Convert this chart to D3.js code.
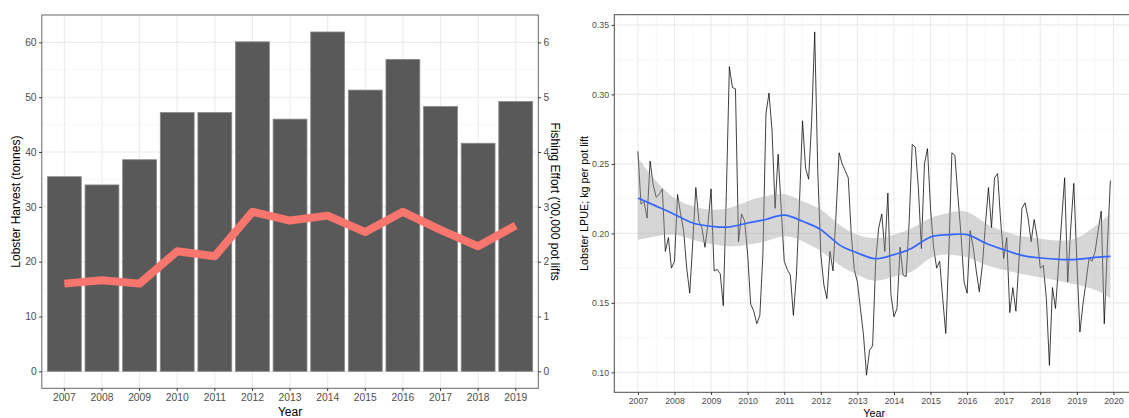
<!DOCTYPE html>
<html>
<head>
<meta charset="utf-8">
<script src="https://cdn.jsdelivr.net/npm/d3@7"></script>
<style>
  body { margin: 0; background: #fff; }
  text { font-family: "Liberation Sans", Arial, sans-serif; }
</style>
</head>
<body>
<script>
// ---- data ----
var years = [2007, 2008, 2009, 2010, 2011, 2012, 2013, 2014, 2015, 2016, 2017, 2018, 2019];
var harvest = [35.5, 34.0, 38.6, 47.2, 47.2, 60.1, 46.0, 61.9, 51.3, 56.9, 48.3, 41.6, 49.2];
var effort = [1.60, 1.66, 1.60, 2.19, 2.10, 2.91, 2.75, 2.84, 2.54, 2.91, 2.58, 2.28, 2.66];

// monthly LPUE, Jan 2007 .. Dec 2019
var lpue = [
  0.259, 0.221, 0.223, 0.211, 0.252, 0.235, 0.226, 0.228, 0.232, 0.187, 0.197, 0.175,
  0.180, 0.228, 0.214, 0.202, 0.175, 0.157, 0.194, 0.233, 0.209, 0.204, 0.190, 0.207,
  0.232, 0.173, 0.174, 0.171, 0.148, 0.228, 0.320, 0.305, 0.304, 0.194, 0.214, 0.209,
  0.185, 0.149, 0.144, 0.135, 0.141, 0.185, 0.286, 0.301, 0.274, 0.218, 0.257, 0.218,
  0.180, 0.174, 0.170, 0.141, 0.170, 0.222, 0.281, 0.247, 0.239, 0.281, 0.345, 0.245,
  0.185, 0.163, 0.153, 0.187, 0.173, 0.214, 0.258, 0.250, 0.245, 0.240, 0.199, 0.174,
  0.165, 0.146, 0.127, 0.098, 0.116, 0.119, 0.180, 0.204, 0.214, 0.187, 0.229, 0.156,
  0.140, 0.146, 0.190, 0.170, 0.169, 0.209, 0.264, 0.262, 0.233, 0.189, 0.250, 0.261,
  0.218, 0.190, 0.175, 0.180, 0.153, 0.128, 0.185, 0.258, 0.256, 0.226, 0.199, 0.165,
  0.157, 0.202, 0.190, 0.173, 0.158, 0.177, 0.206, 0.233, 0.204, 0.240, 0.243, 0.209,
  0.182, 0.197, 0.143, 0.161, 0.144, 0.180, 0.218, 0.222, 0.211, 0.194, 0.210, 0.197,
  0.175, 0.177, 0.153, 0.105, 0.161, 0.146, 0.177, 0.209, 0.240, 0.165, 0.204, 0.236,
  0.180, 0.129, 0.149, 0.165, 0.182, 0.180, 0.187, 0.202, 0.216, 0.135, 0.190, 0.238
];

// loess smooth and its ribbon, read every half year
var smoothT = [2007, 2007.5, 2008, 2008.5, 2009, 2009.5, 2010, 2010.5, 2011, 2011.5, 2012, 2012.5, 2013, 2013.5,
  2014, 2014.5, 2015, 2015.5, 2016, 2016.5, 2017, 2017.5, 2018, 2018.5, 2019, 2019.5, 2019.917];
var smoothFit = [0.2255, 0.2196, 0.2136, 0.2075, 0.2051, 0.2046, 0.2075, 0.2100, 0.2131, 0.2087, 0.2027, 0.1919, 0.1859, 0.1818,
  0.1847, 0.1895, 0.1974, 0.1991, 0.1991, 0.1931, 0.1883, 0.1842, 0.1823, 0.1813, 0.1813, 0.1828, 0.1835];
var smoothHi = [0.2544, 0.2376, 0.2255, 0.2196, 0.2172, 0.2183, 0.2232, 0.2268, 0.2284, 0.2232, 0.2172, 0.2064, 0.1991, 0.1967,
  0.1991, 0.2039, 0.2111, 0.2147, 0.2154, 0.2075, 0.2015, 0.1979, 0.1962, 0.1948, 0.1967, 0.2051, 0.2143];
var smoothLo = [0.1955, 0.1979, 0.1991, 0.1955, 0.1924, 0.1907, 0.1919, 0.1943, 0.1979, 0.1943, 0.1871, 0.1775, 0.1703, 0.1659,
  0.1690, 0.1727, 0.1823, 0.1847, 0.1828, 0.1775, 0.1739, 0.1707, 0.1683, 0.1659, 0.1631, 0.1595, 0.1534];

var leftTicks = [0, 10, 20, 30, 40, 50, 60];
var effortTicks = [0, 1, 2, 3, 4, 5, 6];
var lpueTicks = [0.10, 0.15, 0.20, 0.25, 0.30, 0.35];
var lpueYears = d3.range(2007, 2021);

var width = 1129;
var height = 418;

var svg = d3.select("body").append("svg")
  .attr("width", width)
  .attr("height", height);

svg.append("rect").attr("width", width).attr("height", height).attr("fill", "#fff");

function styleAxis(g, size, color) {
  g.select(".domain").remove();
  g.selectAll(".tick line").attr("stroke", "#333").attr("stroke-width", 1);
  g.selectAll(".tick text")
    .attr("fill", color || "#4d4d4d")
    .style("font-size", size + "px")
    .style("font-family", "'Liberation Sans', Arial, sans-serif");
}

function hline(g, y, x0, x1, color, w) {
  g.append("line").attr("x1", x0).attr("x2", x1).attr("y1", y).attr("y2", y)
    .attr("stroke", color).attr("stroke-width", w);
}
function vline(g, x, y0, y1, color, w) {
  g.append("line").attr("x1", x).attr("x2", x).attr("y1", y0).attr("y2", y1)
    .attr("stroke", color).attr("stroke-width", w);
}

// ================= left panel =================
var L = { x0: 41.8, x1: 538.3, y0: 15, y1: 388.3 };

var xBand = d3.scaleBand()
  .domain(years)
  .range([L.x0, L.x1])
  .paddingInner(0.1)
  .paddingOuter(0.15);

var hMax = d3.max(harvest);
var yLeft = d3.scaleLinear()
  .domain([-0.05 * hMax, hMax * 1.05])
  .range([L.y1, L.y0]);
// secondary axis = effort * 10 on the same scale
var yEffort = d3.scaleLinear()
  .domain(yLeft.domain().map(d => d / 10))
  .range([L.y1, L.y0]);

var lg = svg.append("g");
// minor grid
d3.range(5, 60, 10).forEach(v => hline(lg, yLeft(v), L.x0, L.x1, "#f3f3f3", 0.6));
// major grid
leftTicks.forEach(v => hline(lg, yLeft(v), L.x0, L.x1, "#ebebeb", 1.1));
years.forEach(yr => vline(lg, xBand(yr) + xBand.bandwidth() / 2, L.y0, L.y1, "#ebebeb", 1.1));

// bars
lg.selectAll("rect.bar")
  .data(years)
  .enter()
  .append("rect")
  .attr("class", "bar")
  .attr("x", d => xBand(d))
  .attr("width", xBand.bandwidth())
  .attr("y", (d, i) => yLeft(harvest[i]))
  .attr("height", (d, i) => yLeft(0) - yLeft(harvest[i]))
  .attr("fill", "#595959")
  .attr("stroke", "#8a8a8a")
  .attr("stroke-width", 0.8);

// effort line
var effortLine = d3.line()
  .x((d, i) => xBand(years[i]) + xBand.bandwidth() / 2)
  .y(d => yEffort(d));
lg.append("path")
  .datum(effort)
  .attr("d", effortLine)
  .attr("fill", "none")
  .attr("stroke", "#F8766D")
  .attr("stroke-width", 8)
  .attr("stroke-linejoin", "round");

// border
lg.append("rect")
  .attr("x", L.x0).attr("y", L.y0)
  .attr("width", L.x1 - L.x0).attr("height", L.y1 - L.y0)
  .attr("fill", "none").attr("stroke", "#666").attr("stroke-width", 1);

// axes
svg.append("g")
  .attr("transform", "translate(" + L.x0 + ",0)")
  .call(d3.axisLeft(yLeft).tickValues(leftTicks).tickFormat(d3.format("d")).tickSize(2.7).tickPadding(2.5))
  .call(g => styleAxis(g, 10.3));
svg.append("g")
  .attr("transform", "translate(" + L.x1 + ",0)")
  .call(d3.axisRight(yEffort).tickValues(effortTicks).tickFormat(d3.format("d")).tickSize(2.7).tickPadding(2.5))
  .call(g => styleAxis(g, 10.3));
svg.append("g")
  .attr("transform", "translate(0," + L.y1 + ")")
  .call(d3.axisBottom(xBand).tickSize(2.7).tickPadding(3))
  .call(g => styleAxis(g, 10.3));

// titles
svg.append("text")
  .attr("x", (L.x0 + L.x1) / 2).attr("y", 416)
  .attr("text-anchor", "middle")
  .style("font-size", "12px")
  .text("Year");
svg.append("text")
  .attr("transform", "translate(20," + ((L.y0 + L.y1) / 2) + ") rotate(-90)")
  .attr("text-anchor", "middle")
  .style("font-size", "12px")
  .text("Lobster Harvest (tonnes)");
svg.append("text")
  .attr("transform", "translate(551," + ((L.y0 + L.y1) / 2) + ") rotate(90)")
  .attr("text-anchor", "middle")
  .style("font-size", "12px")
  .text("Fishing Effort ('00,000 pot lifts");

// ================= right panel =================
var R = { x0: 614.3, x1: 1134, y0: 14.7, y1: 392.3 };

var t0 = 2007;
var t1 = 2007 + (lpue.length - 1) / 12;
var tPad = 0.05 * (t1 - t0);
var xTime = d3.scaleLinear()
  .domain([t0 - tPad, t1 + tPad])
  .range([R.x0, R.x1]);

var vMin = d3.min(lpue), vMax = d3.max(lpue);
var vPad = 0.05 * (vMax - vMin);
var yLpue = d3.scaleLinear()
  .domain([vMin - vPad, vMax + vPad])
  .range([R.y1, R.y0]);

svg.append("clipPath").attr("id", "rclip")
  .append("rect")
  .attr("x", R.x0).attr("y", R.y0)
  .attr("width", R.x1 - R.x0).attr("height", R.y1 - R.y0);

var rg = svg.append("g").attr("clip-path", "url(#rclip)");

// minor grid
d3.range(0.125, 0.35, 0.05).forEach(v => hline(rg, yLpue(v), R.x0, R.x1, "#f3f3f3", 0.6));
d3.range(2006.5, 2021, 1).forEach(v => vline(rg, xTime(v), R.y0, R.y1, "#f3f3f3", 0.6));
// major grid
lpueTicks.forEach(v => hline(rg, yLpue(v), R.x0, R.x1, "#ebebeb", 1.1));
lpueYears.forEach(v => vline(rg, xTime(v), R.y0, R.y1, "#ebebeb", 1.1));

// monthly series
var lpueLine = d3.line()
  .x((d, i) => xTime(2007 + i / 12))
  .y(d => yLpue(d));
rg.append("path")
  .datum(lpue)
  .attr("d", lpueLine)
  .attr("fill", "none")
  .attr("stroke", "#000")
  .attr("stroke-width", 0.75);

// smooth ribbon
var ribbon = d3.area()
  .x((d, i) => xTime(smoothT[i]))
  .y0((d, i) => yLpue(smoothLo[i]))
  .y1((d, i) => yLpue(smoothHi[i]))
  .curve(d3.curveNatural);
rg.append("path")
  .datum(smoothT)
  .attr("d", ribbon)
  .attr("fill", "#999999")
  .attr("fill-opacity", 0.4);

var smoothLine = d3.line()
  .x((d, i) => xTime(smoothT[i]))
  .y(d => yLpue(d))
  .curve(d3.curveNatural);
rg.append("path")
  .datum(smoothFit)
  .attr("d", smoothLine)
  .attr("fill", "none")
  .attr("stroke", "#3366FF")
  .attr("stroke-width", 1.7);

// border
svg.append("rect")
  .attr("x", R.x0).attr("y", R.y0)
  .attr("width", R.x1 - R.x0).attr("height", R.y1 - R.y0)
  .attr("fill", "none").attr("stroke", "#4d4d4d").attr("stroke-width", 1);

svg.append("g")
  .attr("transform", "translate(" + R.x0 + ",0)")
  .call(d3.axisLeft(yLpue).tickValues(lpueTicks).tickFormat(d3.format(".2f")).tickSize(2.7).tickPadding(2.5))
  .call(g => styleAxis(g, 8.8));
svg.append("g")
  .attr("transform", "translate(0," + R.y1 + ")")
  .call(d3.axisBottom(xTime).tickValues(lpueYears).tickFormat(d3.format("d")).tickSize(2.7).tickPadding(2.5))
  .call(g => styleAxis(g, 8.8));

svg.append("text")
  .attr("x", (R.x0 + R.x1) / 2).attr("y", 416.5)
  .attr("text-anchor", "middle")
  .style("font-size", "10.8px")
  .text("Year");
svg.append("text")
  .attr("transform", "translate(587.5," + ((R.y0 + R.y1) / 2) + ") rotate(-90)")
  .attr("text-anchor", "middle")
  .style("font-size", "10.8px")
  .text("Lobster LPUE; kg per pot lift");
</script>
</body>
</html>
